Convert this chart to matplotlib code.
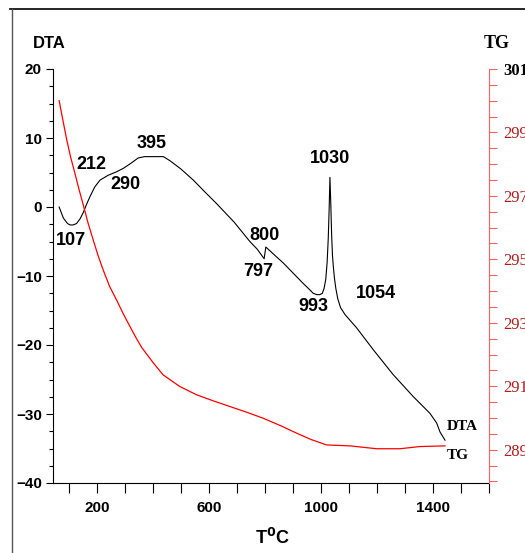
"""DTA / TG thermal analysis curve."""

import matplotlib

matplotlib.use("Agg")
from matplotlib import pyplot as plt
from matplotlib.lines import Line2D

# DTA curve (temperature in deg C, signal)
dta_temp = [65, 80, 95, 104, 115, 127, 140, 151, 163, 175, 192, 211, 240, 270, 294,
            320, 347, 370, 389, 415, 437, 461, 500, 544, 585, 627, 690, 746, 772,
            797, 803, 835, 865, 889, 937, 960, 972, 985, 996, 1005, 1011, 1017,
            1022, 1026, 1029, 1032, 1035, 1038, 1041, 1044, 1048, 1053, 1060,
            1070, 1086, 1127, 1187, 1258, 1330, 1389, 1413, 1425, 1443]
dta_value = [0.0, -1.6, -2.4, -2.6, -2.6, -2.4, -1.7, -0.8, 0.4, 1.5, 2.9, 3.9, 4.6,
             5.1, 5.6, 6.3, 7.1, 7.3, 7.3, 7.3, 7.3, 6.7, 5.5, 3.9, 2.2, 0.5, -2.2,
             -5.0, -6.1, -7.5, -5.8, -7.0, -8.1, -9.1, -11.1, -12.0, -12.5, -12.7,
             -12.7, -12.5, -11.8, -10.5, -8.0, -4.5, -0.5, 4.3, 0.5, -4.0, -7.0,
             -8.6, -10.3, -11.8, -13.3, -14.6, -15.6, -17.5, -20.7, -24.3, -27.5,
             -29.9, -31.3, -32.6, -33.8]

# TG curve (temperature in deg C, mass)
tg_temp = [65, 78, 92, 106, 121, 136, 151, 168, 187, 204, 222, 245, 270, 293, 318,
           340, 360, 400, 436, 496, 556, 615, 675, 735, 794, 855, 913, 965, 1020,
           1104, 1199, 1282, 1354, 1443]
tg_value = [300.0, 299.4, 298.77, 298.22, 297.72, 297.2, 296.72, 296.15, 295.6,
            295.12, 294.67, 294.15, 293.72, 293.3, 292.88, 292.52, 292.22, 291.75,
            291.36, 290.99, 290.73, 290.54, 290.36, 290.18, 289.99, 289.76, 289.52,
            289.32, 289.15, 289.12, 289.03, 289.03, 289.1, 289.12]

# peak annotations: label, temperature, DTA level
peak_labels = ["107", "212", "290", "395", "800", "797", "993", "1030", "1054"]
peak_x = [106, 181, 300, 395, 800, 776, 972, 1032, 1196]
peak_y = [-4.8, 6.2, 3.2, 9.2, -4.1, -9.4, -14.4, 7.1, -12.5]

dta_ticks = [20, 10, 0, -10, -20, -30, -40]
tg_ticks = [289, 291, 293, 295, 297, 299, 301]
temp_ticks = [200, 600, 1000, 1400]

SANS = "Liberation Sans"
SERIF = "Liberation Serif"
W, H = 525, 553

fig = plt.figure(figsize=(W / 100, H / 100), dpi=100)
ax = fig.add_axes((53 / W, 1 - 483 / H, (489 - 53) / W, (483 - 69) / H))
ax2 = ax.twinx()

ax.plot(dta_temp, dta_value, color="black", linewidth=0.8)
ax2.plot(tg_temp, tg_value, color="red", linewidth=0.9)

ax.set_xlim(43, 1600)
ax.set_ylim(-40, 20)
ax2.set_ylim(287.95, 301)

ax.spines["top"].set_visible(False)
ax2.spines["top"].set_visible(False)
ax2.spines["left"].set_visible(False)
ax2.spines["bottom"].set_visible(False)
ax.spines["right"].set_visible(False)
ax2.spines["right"].set_color("#ff6060")

ax.set_xticks(temp_ticks)
ax.set_xticks(range(100, 1601, 100), minor=True)
ax.set_yticks(dta_ticks)
ax.set_yticks([v / 2 for v in range(-80, 41, 5)], minor=True)
ax.tick_params(axis="x", which="both", direction="out", length=7, width=0.8, pad=6)
ax.tick_params(axis="y", which="major", direction="out", length=5, width=0.8, pad=3)
ax.tick_params(axis="y", which="minor", direction="out", length=3, width=0.8)
for label in ax.get_xticklabels() + ax.get_yticklabels():
    label.set_fontfamily(SANS)
    label.set_fontweight("bold")
    label.set_fontsize(11)

ax2.set_yticks(tg_ticks)
ax2.set_yticks([288 + v / 2 for v in range(0, 27)], minor=True)
ax2.tick_params(axis="y", which="both", direction="out", length=6, width=0.8,
                color="#ff6060", pad=4)
for label in ax2.get_yticklabels():
    label.set_fontfamily(SERIF)
    label.set_fontsize(12)
    label.set_color("#b01c1c")
top_label = ax2.get_yticklabels()[-1]
top_label.set_color("black")
top_label.set_fontweight("bold")

for text, x, y in zip(peak_labels, peak_x, peak_y):
    ax.text(x, y, text, ha="center", va="center", fontsize=13, fontweight="bold",
            family=SANS)

ax.text(1448, -31.8, "DTA", ha="left", va="center", fontsize=11,
        fontweight="bold", family=SERIF)
ax.text(1448, -36.0, "TG", ha="left", va="center", fontsize=11,
        fontweight="bold", family=SERIF)

fig.text(49 / W, 1 - 43 / H, "DTA", ha="center", va="center", fontsize=12,
         fontweight="bold", family=SANS)
fig.text(497 / W, 1 - 43 / H, "TG", ha="center", va="center", fontsize=13,
         fontweight="bold", family=SERIF)
fig.text(272 / W, 1 - 538 / H, "T$^{\\mathbf{0}}$C", ha="center", va="center",
         fontsize=13, fontweight="bold", family=SANS)

# outer frame of the original figure
fig.add_artist(Line2D([10 / W, 1], [1 - 9 / H, 1 - 9 / H], color="black",
                      linewidth=1.2, transform=fig.transFigure))
fig.add_artist(Line2D([12 / W, 12 / W], [1 - 9 / H, 0], color="#555555",
                      linewidth=1.0, transform=fig.transFigure))

fig.savefig("out.png", dpi=100)
